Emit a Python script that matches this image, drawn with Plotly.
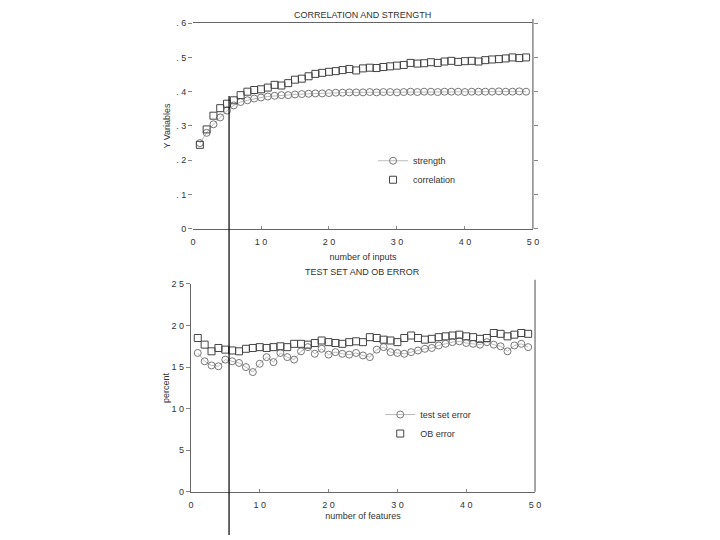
import plotly.graph_objects as go

# ---------------- data ----------------
n_inputs = list(range(1, 50))
strength = [0.25, 0.28, 0.305, 0.325, 0.345, 0.36, 0.37, 0.375, 0.38, 0.383,
            0.386, 0.388, 0.39, 0.39, 0.392, 0.393, 0.394, 0.395, 0.395, 0.396,
            0.397, 0.397, 0.398, 0.398, 0.398, 0.399, 0.398, 0.399, 0.399, 0.398,
            0.399, 0.4, 0.399, 0.4, 0.4, 0.399, 0.4, 0.4, 0.4, 0.399,
            0.4, 0.4, 0.4, 0.4, 0.401, 0.4, 0.4, 0.401, 0.4]
correlation = [0.245, 0.29, 0.33, 0.352, 0.365, 0.375, 0.39, 0.4, 0.405, 0.407,
               0.412, 0.42, 0.418, 0.425, 0.435, 0.438, 0.445, 0.452, 0.455, 0.458,
               0.46, 0.463, 0.466, 0.462, 0.468, 0.47, 0.469, 0.472, 0.474, 0.476,
               0.478, 0.484, 0.482, 0.483, 0.486, 0.484, 0.488, 0.49, 0.487, 0.489,
               0.49, 0.488, 0.492, 0.494, 0.495, 0.497, 0.5, 0.498, 0.5]

n_features = list(range(1, 50))
test_set_error = [16.7, 15.7, 15.2, 15.1, 15.9, 15.7, 15.5, 15.0, 14.4, 15.4,
                  16.2, 15.6, 16.7, 16.2, 15.9, 16.9, 17.4, 16.6, 17.2, 16.5,
                  16.8, 16.6, 16.5, 16.7, 16.4, 16.2, 17.1, 17.4, 16.8, 16.7,
                  16.6, 16.8, 17.0, 17.2, 17.3, 17.6, 17.8, 18.0, 18.1, 17.9,
                  17.8, 17.7, 18.0, 17.7, 17.5, 16.9, 17.6, 17.8, 17.4]
ob_error = [18.5, 17.7, 16.9, 17.3, 17.1, 17.0, 16.9, 17.2, 17.3, 17.4,
            17.3, 17.4, 17.5, 17.4, 17.8, 17.8, 17.7, 17.9, 18.2, 18.0,
            17.9, 17.8, 18.0, 18.1, 18.0, 18.6, 18.5, 18.3, 18.2, 18.0,
            18.5, 18.8, 18.5, 18.3, 18.4, 18.6, 18.7, 18.8, 18.9, 18.7,
            18.6, 18.4, 18.5, 19.1, 19.0, 18.7, 18.9, 19.1, 19.0]

x_tickvals = [0, 10, 20, 30, 40, 50]
x_ticktext = ["0", "1 0", "2 0", "3 0", "4 0", "5 0"]
y1_tickvals = [0, 0.1, 0.2, 0.3, 0.4, 0.5, 0.6]
y1_ticktext = ["0", ". 1", ". 2", ". 3", ". 4", ". 5", ". 6"]
y2_tickvals = [0, 5, 10, 15, 20, 25]
y2_ticktext = ["0", "5", "1 0", "1 5", "2 0", "2 5"]
cutoff = 5.3

FONT = "Liberation Sans"
TXT = "#333333"

fig = go.Figure()

fig.add_trace(go.Scatter(
    x=n_inputs, y=strength, name="strength", mode="lines+markers",
    line=dict(color="#aaaaaa", width=0.8),
    marker=dict(symbol="circle-open", size=7, color="#777777", line=dict(width=1)),
    xaxis="x", yaxis="y", legend="legend"))
fig.add_trace(go.Scatter(
    x=n_inputs, y=correlation, name="correlation", mode="markers",
    marker=dict(symbol="square-open", size=7, color="#444444", line=dict(width=1)),
    xaxis="x", yaxis="y", legend="legend"))

fig.add_trace(go.Scatter(
    x=n_features, y=test_set_error, name="test set error", mode="lines+markers",
    line=dict(color="#aaaaaa", width=0.8),
    marker=dict(symbol="circle-open", size=7, color="#777777", line=dict(width=1)),
    xaxis="x2", yaxis="y2", legend="legend2"))
fig.add_trace(go.Scatter(
    x=n_features, y=ob_error, name="OB error", mode="markers",
    marker=dict(symbol="square-open", size=7, color="#444444", line=dict(width=1)),
    xaxis="x2", yaxis="y2", legend="legend2"))

axis_font = dict(family=FONT, size=9, color=TXT)

fig.update_layout(
    width=720, height=540,
    margin=dict(l=0, r=0, t=0, b=0),
    paper_bgcolor="white", plot_bgcolor="white",
    font=dict(family=FONT, size=9, color=TXT),
    xaxis=dict(domain=[0.257, 0.729], anchor="y", range=[0, 50],
               tickvals=x_tickvals, ticktext=x_ticktext, tickfont=axis_font,
               showgrid=False, zeroline=False, showline=True, mirror=True,
               linecolor="#666666", linewidth=1, ticks="inside", ticklen=3,
               tickcolor="#888888", ticklabelstandoff=4,
               title=dict(text="number of inputs", font=axis_font, standoff=8),
               automargin=False),
    yaxis=dict(domain=[0.591, 0.972], anchor="x", range=[0, 0.6],
               tickvals=y1_tickvals, ticktext=y1_ticktext, tickfont=axis_font,
               showgrid=False, zeroline=False, showline=False,
               ticks="outside", ticklen=4, tickcolor="#888888", mirror="ticks",
               title=dict(text="Y Variables", font=axis_font, standoff=4),
               automargin=False),
    xaxis2=dict(domain=[0.254, 0.732], anchor="y2", range=[0, 50],
                tickvals=x_tickvals, ticktext=x_ticktext, tickfont=axis_font,
                showgrid=False, zeroline=False, showline=True,
                linecolor="#666666", linewidth=1, ticks="inside", ticklen=3,
                tickcolor="#888888", ticklabelstandoff=4,
                title=dict(text="number of features", font=axis_font, standoff=4),
                automargin=False),
    yaxis2=dict(domain=[0.104, 0.489], anchor="x2", range=[0, 25],
                tickvals=y2_tickvals, ticktext=y2_ticktext, tickfont=axis_font,
                showgrid=False, zeroline=False, showline=True,
                linecolor="#666666", linewidth=1,
                ticks="outside", ticklen=4, tickcolor="#888888",
                title=dict(text="percent", font=axis_font, standoff=0),
                automargin=False),
    legend=dict(x=0.507, y=0.744, xanchor="left", yanchor="top",
                bgcolor="rgba(0,0,0,0)", font=dict(family=FONT, size=9, color=TXT),
                itemwidth=30, tracegroupgap=0),
    legend2=dict(x=0.517, y=0.274, xanchor="left", yanchor="top",
                 bgcolor="rgba(0,0,0,0)", font=dict(family=FONT, size=9, color=TXT),
                 itemwidth=30, tracegroupgap=0),
    annotations=[
        dict(text="CORRELATION AND STRENGTH", x=0.492, y=1.0, xref="paper",
             yref="paper", yanchor="top", showarrow=False,
             font=dict(family=FONT, size=9, color=TXT)),
        dict(text="TEST SET AND OB ERROR", x=0.492, y=0.511, xref="paper",
             yref="paper", showarrow=False, font=dict(family=FONT, size=9, color=TXT)),
    ],
    shapes=[
        dict(type="line", xref="x domain", yref="y domain", x0=1, x1=1, y0=0, y1=1.02,
             line=dict(color="#888888", width=1.5)),
        dict(type="line", xref="x2 domain", yref="y2 domain", x0=1, x1=1, y0=0, y1=1.02,
             line=dict(color="#888888", width=1.5)),
        dict(type="line", xref="x", yref="paper", x0=cutoff, x1=cutoff,
             y0=0.024, y1=0.837, line=dict(color="black", width=1.2)),
    ],
)

fig.write_html("out.html")
